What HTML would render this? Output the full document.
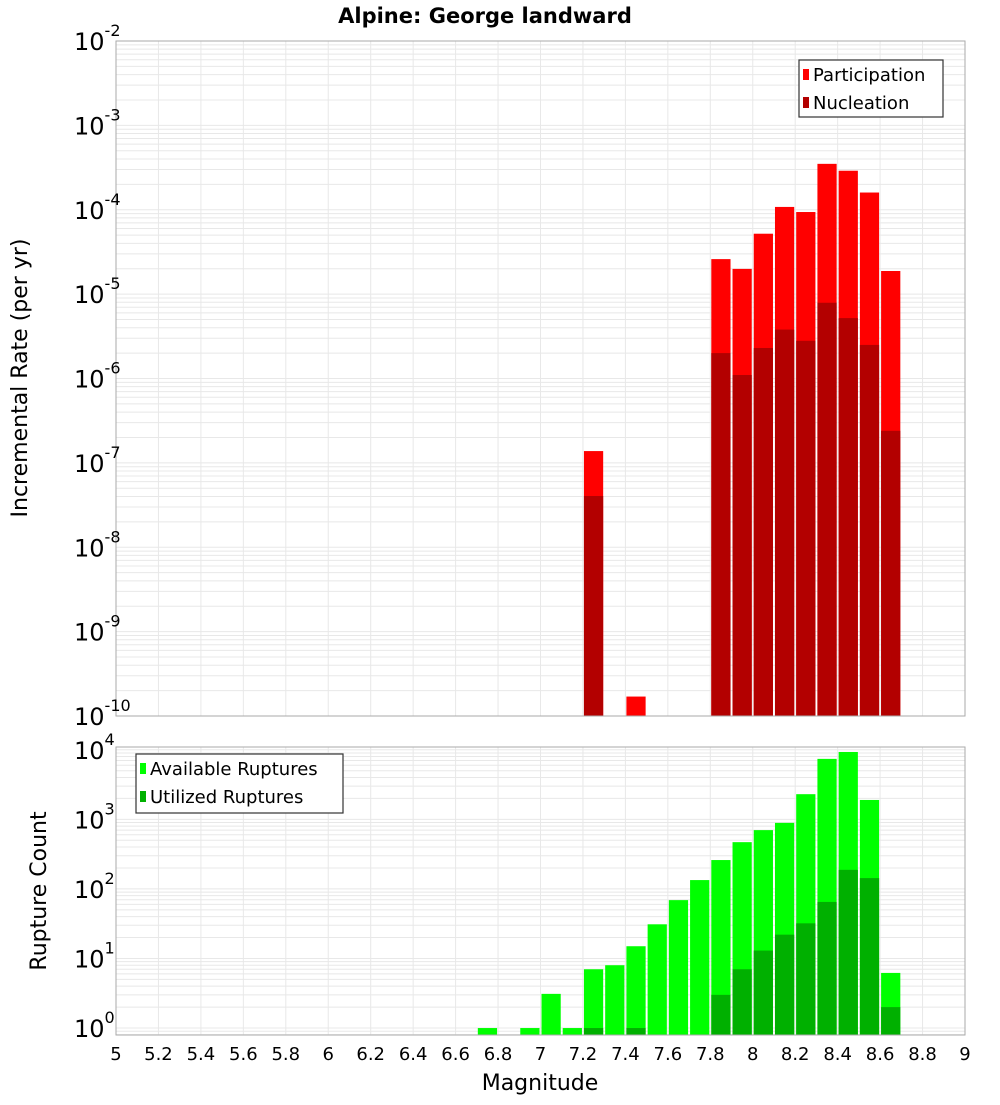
<!DOCTYPE html>
<html><head><meta charset="utf-8"><style>
body{margin:0;background:#fff;}
svg text{font-family:"DejaVu Sans","Liberation Sans",sans-serif;}
</style></head><body>
<svg id="c" width="1000" height="1100" xmlns="http://www.w3.org/2000/svg"></svg>
<script>
const topMags=[7.25,7.45,7.85,7.95,8.05,8.15,8.25,8.35,8.45,8.55,8.65];
const participation=[1.38e-7,1.7e-10,2.6e-5,1.99e-5,5.2e-5,1.08e-4,9.4e-5,3.5e-4,2.9e-4,1.6e-4,1.88e-5];
const nucleation=[4.05e-8,0,2.0e-6,1.1e-6,2.3e-6,3.8e-6,2.8e-6,7.9e-6,5.2e-6,2.5e-6,2.4e-7];
const botMags=[6.75,6.95,7.05,7.15,7.25,7.35,7.45,7.55,7.65,7.75,7.85,7.95,8.05,8.15,8.25,8.35,8.45,8.55,8.65];
const available=[1,1,3.1,1,7,8,15,31,69,134,260,470,700,890,2300,7400,9300,1900,6.2];
const utilized=[0,0,0,0,1,0,1,0,0,0,3,7,13,22,32,65,188,143,2];
const xTicks=["5","5.2","5.4","5.6","5.8","6","6.2","6.4","6.6","6.8","7","7.2","7.4","7.6","7.8","8","8.2","8.4","8.6","8.8","9"];

const NS="http://www.w3.org/2000/svg";
const svg=document.getElementById('c');
function mk(tag,attrs,parent){const e=document.createElementNS(NS,tag);for(const k in attrs)e.setAttribute(k,attrs[k]);(parent||svg).appendChild(e);return e;}
const X0=116,X1=965;
const xs=v=>X0+(v-5)/4*(X1-X0);
const T={top:41,bot:716,lmin:-10,lmax:-2};
const B={top:747,bot:1035,lmin:-0.1,lmax:4.04};
const ys=(P,v)=>P.bot-(Math.log10(v)-P.lmin)/(P.lmax-P.lmin)*(P.bot-P.top);

function grid(P,name){
  const g=mk('g',{});
  
  
  for(let d=Math.floor(P.lmin);d<Math.ceil(P.lmax);d++){for(let m=1;m<10;m++){const lv=d+Math.log10(m);if(lv<P.lmin||lv>P.lmax)continue;const y=ys(P,Math.pow(10,lv));
    mk('line',{x1:X0,x2:X1,y1:y,y2:y,stroke:'#e8e8e8','stroke-width':1},g);}}
  for(let i=0;i<xTicks.length;i++){const x=xs(parseFloat(xTicks[i]));mk('line',{x1:x,x2:x,y1:P.top,y2:P.bot,stroke:'#e8e8e8','stroke-width':1},g);}
}
function yLabels(P,name){
  for(let d=Math.ceil(P.lmin);d<=Math.floor(P.lmax);d++){const y=ys(P,Math.pow(10,d));
    const t=mk('text',{x:104,y:y+9,'text-anchor':'end','font-size':24,fill:'#000'});
    
    
    t.textContent='10';
    const s=mk('tspan',{dy:-14,'font-size':16});s.textContent=String(d);t.appendChild(s);
    t.setAttribute('x',74);t.setAttribute('text-anchor','start');
  }
}
function bars(P,mags,vals,color,name){
  for(let i=0;i<mags.length;i++){if(!(vals[i]>0))continue;
    const x=xs(mags[i]-0.05)+1,w=xs(mags[i]+0.05)-xs(mags[i]-0.05)-2,y=ys(P,vals[i]);
    const r=mk('rect',{x:x,y:y,width:w,height:P.bot-y,fill:color});
    
    
  }
}
grid(T,'top');grid(B,'bottom');
bars(T,topMags,participation,'#ff0000','participation');
bars(T,topMags,nucleation,'#b30000','nucleation');
bars(B,botMags,available,'#00ff00','available');
bars(B,botMags,utilized,'#00b000','utilized');
[T,B].forEach((P,i)=>{const r=mk('rect',{x:X0,y:P.top,width:X1-X0,height:P.bot-P.top,fill:'none',stroke:'#aaa','stroke-width':1});
  
  });
yLabels(T,'top-y');yLabels(B,'bottom-y');
xTicks.forEach(s=>{const t=mk('text',{x:xs(parseFloat(s)),y:1060,'text-anchor':'middle','font-size':18,fill:'#000'});
  
  
  t.textContent=s;});
function legend(x,y,w,h,items,name){
  const g=mk('g',{});
  
  
  mk('rect',{x:x,y:y,width:w,height:h,fill:'#fff',stroke:'#333','stroke-width':1.2},g);
  items.forEach((it,i)=>{const cy=y+14+i*28;mk('rect',{x:x+4,y:cy-5,width:6,height:11,fill:it[1]},g);
    const t=mk('text',{x:x+14,y:cy+7,'font-size':18,fill:'#000'},g);t.textContent=it[0];});
}
legend(799,60,144,57,[['Participation','#ff0000'],['Nucleation','#b30000']],'top-legend');
legend(136,754,207,59,[['Available Ruptures','#00ff00'],['Utilized Ruptures','#00b000']],'bottom-legend');
</script>
<svg style="position:absolute;left:0;top:0" width="1000" height="1100" xmlns="http://www.w3.org/2000/svg">
<text x="485" y="23" text-anchor="middle" font-size="21" font-weight="bold" font-family="DejaVu Sans, Liberation Sans, sans-serif">Alpine: George landward</text>
<text transform="translate(27,378) rotate(-90)" text-anchor="middle" font-size="22" font-family="DejaVu Sans, Liberation Sans, sans-serif">Incremental Rate (per yr)</text>
<text transform="translate(46,891) rotate(-90)" text-anchor="middle" font-size="22" font-family="DejaVu Sans, Liberation Sans, sans-serif">Rupture Count</text>
<text x="540" y="1090" text-anchor="middle" font-size="22" font-family="DejaVu Sans, Liberation Sans, sans-serif">Magnitude</text>
</svg>
</body></html>
